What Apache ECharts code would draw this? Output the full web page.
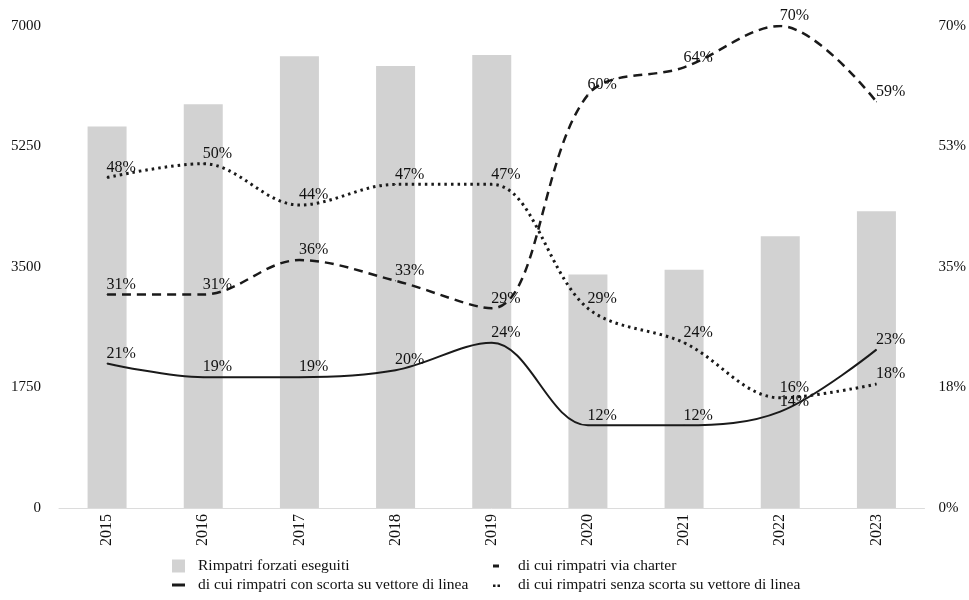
<!DOCTYPE html>
<html>
<head>
<meta charset="utf-8">
<script src="https://cdn.jsdelivr.net/npm/echarts@6/dist/echarts.min.js"></script>
<style>
  html, body { margin: 0; padding: 0; background: #fff; }
  #chart { width: 969px; height: 600px; }
</style>
</head>
<body>
<div id="chart"></div>
<script>
// Years on the category axis
const years = ['2015', '2016', '2017', '2018', '2019', '2020', '2021', '2022', '2023'];

// Total forced returns carried out (left axis)
const rimpatriTotali = [5540, 5865, 6560, 6420, 6580, 3390, 3460, 3945, 4310];

// Shares of the total, in percent (right axis)
const conScorta = [21, 19, 19, 20, 24, 12, 12, 14, 23];
const viaCharter = [31, 31, 36, 33, 29, 60, 64, 70, 59];
const senzaScorta = [48, 50, 44, 47, 47, 29, 24, 16, 18];

// Series names shown in the legend
const nomeBarre = 'Rimpatri forzati eseguiti';
const nomeScorta = 'di cui rimpatri con scorta su vettore di linea';
const nomeCharter = 'di cui rimpatri via charter';
const nomeSenza = 'di cui rimpatri senza scorta su vettore di linea';

const FONT = '"Liberation Serif", "Times New Roman", serif';
const INK = '#111';

// Legend glyphs: an invisible 21x13 frame so every icon keeps the same scale
const FRAME = 'M0,0 M21,13 ';
const iconBar = 'path://' + FRAME + 'M0,0 L13,0 L13,13 L0,13 Z';
const iconSolid = 'path://' + FRAME + 'M0,5 L13,5 L13,8 L0,8 Z';
const iconDash = 'path://' + FRAME + 'M1,5 L7,5 L7,8 L1,8 Z';
const iconDots = 'path://' + FRAME + 'M1,6 L3.5,6 L3.5,8.5 L1,8.5 Z M5.5,6 L8,6 L8,8.5 L5.5,8.5 Z';

const pctLabel = {
  show: true,
  position: 'right',
  distance: 0,
  offset: [-1, -10],
  formatter: p => p.value + '%',
  fontFamily: FONT,
  fontSize: 16,
  color: INK
};

function lineSeries(name, values, dash, width) {
  return {
    name: name,
    type: 'line',
    yAxisIndex: 1,
    data: values,
    smooth: 0.35,
    symbol: 'circle',
    symbolSize: 1,
    itemStyle: { color: '#1a1a1a' },
    lineStyle: { color: '#1a1a1a', width: width, type: dash },
    label: pctLabel,
    z: 3
  };
}

const legendText = { fontFamily: FONT, fontSize: 15.5, color: INK, lineHeight: 14 };

const option = {
  backgroundColor: '#ffffff',
  animation: false,
  grid: { left: 59, right: 43, top: 26, bottom: 92, containLabel: false },
  legend: [
    {
      orient: 'vertical',
      left: 172,
      top: 558,
      padding: 0,
      itemGap: 3,
      itemWidth: 21,
      itemHeight: 13,
      textStyle: legendText,
      data: [
        { name: nomeBarre, icon: iconBar, itemStyle: { color: '#d2d2d2', opacity: 1 } },
        { name: nomeScorta, icon: iconSolid, itemStyle: { color: '#1a1a1a', opacity: 1 } }
      ]
    },
    {
      orient: 'vertical',
      left: 492,
      top: 558,
      padding: 0,
      itemGap: 3,
      itemWidth: 21,
      itemHeight: 13,
      textStyle: legendText,
      data: [
        { name: nomeCharter, icon: iconDash, itemStyle: { color: '#1a1a1a', opacity: 1 } },
        { name: nomeSenza, icon: iconDots, itemStyle: { color: '#1a1a1a', opacity: 1 } }
      ]
    }
  ],
  xAxis: {
    type: 'category',
    data: years,
    axisLine: { show: true, lineStyle: { color: '#dcdcdc', width: 1 } },
    axisTick: { show: false },
    axisLabel: { rotate: 90, margin: 6, fontFamily: FONT, fontSize: 16, color: INK }
  },
  yAxis: [
    {
      type: 'value',
      min: 0,
      max: 7000,
      interval: 1750,
      axisLine: { show: false },
      axisTick: { show: false },
      splitLine: { show: false },
      axisLabel: {
        margin: 18,
        fontFamily: FONT,
        fontSize: 15,
        color: INK,
        formatter: v => String(v)
      }
    },
    {
      type: 'value',
      min: 0,
      max: 70,
      interval: 17.5,
      position: 'right',
      axisLine: { show: false },
      axisTick: { show: false },
      splitLine: { show: false },
      axisLabel: {
        margin: 14,
        fontFamily: FONT,
        fontSize: 15,
        color: INK,
        formatter: v => Math.round(v) + '%'
      }
    }
  ],
  series: [
    {
      name: nomeBarre,
      type: 'bar',
      data: rimpatriTotali,
      barWidth: 39,
      itemStyle: { color: '#d2d2d2' },
      z: 1
    },
    lineSeries(nomeScorta, conScorta, 'solid', 2),
    lineSeries(nomeCharter, viaCharter, [9, 6], 2.5),
    lineSeries(nomeSenza, senzaScorta, [2.5, 4], 3)
  ]
};

const chart = echarts.init(document.getElementById('chart'), null, { renderer: 'canvas' });
chart.setOption(option);
</script>
</body>
</html>
